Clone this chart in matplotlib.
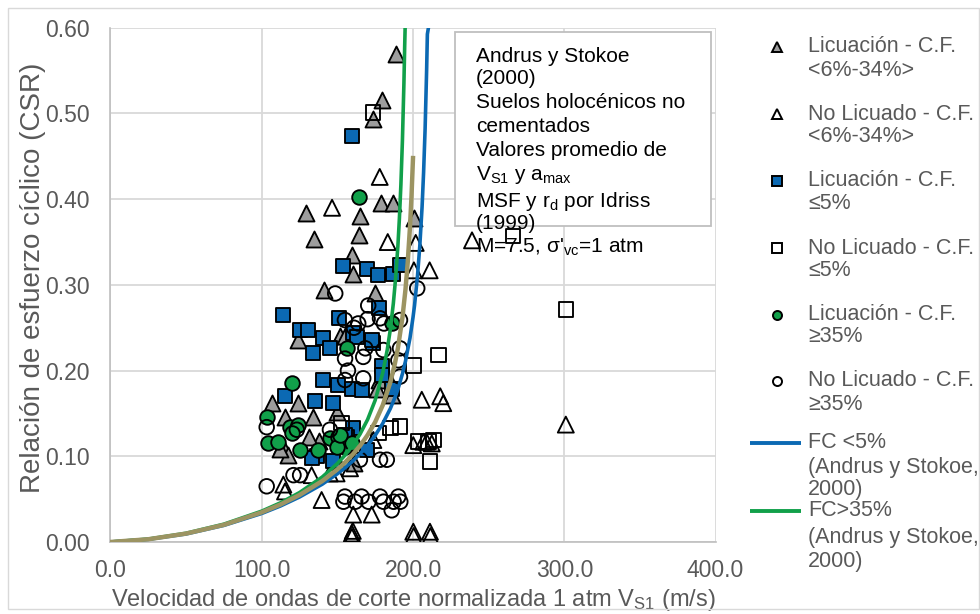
import matplotlib
matplotlib.use('Agg')
import matplotlib.pyplot as plt
from matplotlib.lines import Line2D
from matplotlib.patches import Rectangle

plt.rcParams['font.family'] = ['Liberation Sans', 'DejaVu Sans']
plt.rcParams['mathtext.fontset'] = 'custom'
plt.rcParams['mathtext.rm'] = 'Liberation Sans'
plt.rcParams['mathtext.it'] = 'Liberation Sans:italic'
plt.rcParams['mathtext.bf'] = 'Liberation Sans:bold'

# ---- data: normalized shear-wave velocity Vs1 (m/s) vs cyclic stress ratio ----
liq_fc6_34_v = [189, 179.5, 173.6, 179, 186.6, 165, 129, 200.6, 134.6, 164, 159.5, 160.6,
                141, 175, 124.2, 152, 155.1, 177.3, 185.9, 106.6, 124.2, 149.5, 115.4,
                134.1, 113.2, 117.6, 112, 138, 161, 150, 176, 131]
liq_fc6_34_csr = [0.570, 0.516, 0.494, 0.395, 0.395, 0.380, 0.384, 0.378, 0.353, 0.358, 0.335, 0.313,
                  0.294, 0.291, 0.236, 0.240, 0.240, 0.189, 0.172, 0.162, 0.162, 0.152, 0.146,
                  0.146, 0.113, 0.102, 0.109, 0.118, 0.092, 0.095, 0.178, 0.123]

noliq_fc6_34_v = [178, 146.5, 183.3, 201.8, 200.6, 211, 173.8, 200.2, 206.8, 212.4, 205.8, 218,
                  220, 114.3, 115.4, 133, 145, 149.5, 158.4, 139.6, 160.5, 172.7, 159.6, 159.6,
                  160.2, 200.2, 211.2, 200.4, 211.5, 239, 301, 209]
noliq_fc6_34_csr = [0.426, 0.390, 0.350, 0.349, 0.317, 0.317, 0.119, 0.113, 0.117, 0.115, 0.166, 0.170,
                    0.162, 0.067, 0.059, 0.078, 0.080, 0.080, 0.086, 0.049, 0.032, 0.032, 0.010, 0.006,
                    0.013, 0.012, 0.012, 0.007, 0.007, 0.352, 0.137, 0.117]

liq_fc5_v = [160, 153.5, 169.4, 176.7, 186.6, 191.4, 177.3, 114.2, 151.3, 125.3, 130.8, 140.7,
             160.5, 134.1, 145.1, 173.8, 179.3, 179.3, 140.7, 150.7, 159.4, 166, 185.9, 115.4,
             135.2, 147.3, 160.5, 156.3, 136.3, 169.4, 133, 172.7, 162.9, 158.4, 155.1, 147]
liq_fc5_csr = [0.474, 0.322, 0.319, 0.311, 0.313, 0.323, 0.273, 0.265, 0.261, 0.247, 0.247, 0.238,
               0.244, 0.220, 0.226, 0.232, 0.205, 0.195, 0.189, 0.183, 0.179, 0.177, 0.179, 0.170,
               0.164, 0.162, 0.133, 0.123, 0.100, 0.107, 0.098, 0.236, 0.239, 0.113, 0.125, 0.094]

noliq_fc5_v = [173.6, 266, 301, 200.2, 216.7, 152.9, 177.1, 185, 191.4, 203.5, 210.1, 211.1, 213.5]
noliq_fc5_csr = [0.501, 0.357, 0.271, 0.206, 0.218, 0.139, 0.127, 0.133, 0.135, 0.117, 0.117, 0.094, 0.119]

liq_fc35_v = [164.5, 185.9, 156.2, 119.8, 103.3, 118.7, 124.2, 119.8, 145.1, 150.7, 155.1, 159.5,
              149.6, 104.3, 111, 125.3, 137.4, 152]
liq_fc35_csr = [0.403, 0.255, 0.226, 0.185, 0.146, 0.134, 0.137, 0.127, 0.121, 0.123, 0.111, 0.115,
                0.111, 0.115, 0.117, 0.107, 0.107, 0.125]

noliq_fc35_v = [148.6, 202.8, 170.4, 155, 163.8, 178.2, 180.8, 191.4, 155.1, 167.1, 180.4, 191.4,
                190.3, 191.4, 155.1, 167.1, 103.3, 123.2, 145.1, 164.9, 178.2, 182.7, 103.3, 121,
                125.4, 155, 166, 178.2, 190.3, 154, 161.8, 170.6, 180.5, 187.2, 191.6, 185.9,
                168.5, 161, 157, 170]
noliq_fc35_csr = [0.290, 0.296, 0.276, 0.259, 0.255, 0.261, 0.255, 0.259, 0.214, 0.216, 0.224, 0.226,
                  0.212, 0.193, 0.189, 0.191, 0.134, 0.131, 0.131, 0.096, 0.096, 0.096, 0.065, 0.078,
                  0.078, 0.053, 0.053, 0.053, 0.053, 0.047, 0.047, 0.047, 0.047, 0.047, 0.047, 0.037,
                  0.226, 0.250, 0.200, 0.260]

# boundary curves (Andrus y Stokoe, 2000)
crr_fc5_v = [0, 25, 50, 75, 100, 112.5, 125, 140, 150, 155, 160, 165, 170, 175, 180, 185, 188,
             190, 193, 195, 198, 200, 201, 203, 204.5, 206, 207, 208, 209, 209.5, 210.2]
crr_fc5_csr = [0, 0.0031, 0.0094, 0.0194, 0.0333, 0.0421, 0.0525, 0.0674, 0.0796, 0.0865, 0.0942,
               0.1029, 0.1128, 0.1244, 0.1383, 0.1556, 0.1684, 0.178, 0.1962, 0.2107, 0.2379,
               0.262, 0.2759, 0.311, 0.3456, 0.391, 0.4312, 0.482, 0.55, 0.5926, 0.60]
crr_fc35_v = [0, 25, 50, 75, 100, 112.5, 125, 140, 150, 155, 160, 165, 170, 175, 180, 183, 185,
              187, 188.5, 190, 191, 192, 193, 194, 194.5, 194.8]
crr_fc35_csr = [0, 0.0034, 0.0102, 0.0208, 0.036, 0.0458, 0.0577, 0.0758, 0.0915, 0.1011, 0.1123,
                0.1259, 0.1429, 0.1654, 0.1973, 0.2244, 0.248, 0.2783, 0.3076, 0.345, 0.3774,
                0.417, 0.468, 0.5355, 0.5783, 0.60]
crr_fc20_v = [0, 25, 50, 75, 100, 112.5, 125, 140, 150, 155, 160, 165, 170, 175, 180, 185, 188,
              190, 193, 195, 196.5, 198, 199, 200]
crr_fc20_csr = [0, 0.0032, 0.0098, 0.0200, 0.0346, 0.0438, 0.0548, 0.0711, 0.0847, 0.0927, 0.1018,
                0.1123, 0.1248, 0.1400, 0.1596, 0.1862, 0.2079, 0.2259, 0.2616, 0.2942, 0.3260,
                0.3674, 0.4030, 0.448]

x_ticks = [0, 100, 200, 300, 400]
y_ticks = [0.0, 0.1, 0.2, 0.3, 0.4, 0.5, 0.6]

legend_labels = [
    ("Licuación - C.F.", "<6%-34%>"),
    ("No Licuado - C.F.", "<6%-34%>"),
    ("Licuación - C.F.", "≤5%"),
    ("No Licuado - C.F.", "≤5%"),
    ("Licuación - C.F.", "≥35%"),
    ("No Licuado - C.F.", "≥35%"),
]
curve_labels = [("FC <5%", "(Andrus y Stokoe,", "2000)"),
                ("FC>35%", "(Andrus y Stokoe,", "2000)")]

note_lines = [
    "Andrus y Stokoe",
    "(2000)",
    "Suelos holocénicos no",
    "cementados",
    "Valores promedio de",
    r"$\mathregular{V_{S1}}$ y $\mathregular{a_{max}}$",
    r"MSF y r$\mathregular{_d}$ por Idriss",
    "(1999)",
    r"M=7.5, σ'$\mathregular{_{vc}}$=1 atm",
]

# ---- styling ----
GRAY = '#9d9d9d'
BLUE = '#0b69b3'
GREEN = '#11a04a'
TAN = '#9c9462'
TXT = '#595959'
GRID = '#d9d9d9'

W, H = 980, 614
fig = plt.figure(figsize=(W / 100, H / 100), dpi=100)


def fx(px):
    return px / W


def fy(py):
    return 1 - py / H


ax = fig.add_axes([fx(110.4), fy(542), (715.6 - 110.4) / W, (542 - 27.8) / H])
ax.set_xlim(0, 400)
ax.set_ylim(0, 0.6)
ax.set_xticks(x_ticks)
ax.set_yticks(y_ticks)
ax.set_xticklabels([f"{v:.1f}" for v in x_ticks])
ax.set_yticklabels([f"{v:.2f}" for v in y_ticks])
ax.grid(True, color=GRID, linewidth=1.3, zorder=0)
ax.set_axisbelow(True)
for s in ['top', 'right']:
    ax.spines[s].set_visible(False)
ax.spines['left'].set_color('#bfbfbf')
ax.spines['bottom'].set_color('#bfbfbf')
ax.spines['left'].set_linewidth(1.2)
ax.spines['bottom'].set_linewidth(1.2)
ax.tick_params(axis='both', length=0, colors=TXT)
ax.tick_params(axis='y', labelsize=16.5, pad=15)
ax.tick_params(axis='x', labelsize=16.5, pad=12)

ax.set_ylabel("Relación de esfuerzo cíclico (CSR)", fontsize=20, color=TXT)
ax.yaxis.set_label_coords(-0.106, 0.514)
ax.set_xlabel(r"Velocidad de ondas de corte normalizada 1 atm $\mathregular{V_{S1}}$ (m/s)",
              fontsize=17, color=TXT, labelpad=4)

ms_tri, ms_sq, ms_ci, mew = 11.5, 10.5, 10.5, 1.35
ax.scatter(liq_fc6_34_v, liq_fc6_34_csr, marker='^', s=ms_tri**2, facecolor=GRAY,
           edgecolor='black', linewidth=mew, zorder=3)
ax.scatter(noliq_fc6_34_v, noliq_fc6_34_csr, marker='^', s=ms_tri**2, facecolor='none',
           edgecolor='black', linewidth=mew, zorder=3)
ax.scatter(liq_fc5_v, liq_fc5_csr, marker='s', s=ms_sq**2, facecolor=BLUE,
           edgecolor='black', linewidth=mew, zorder=3)
ax.scatter(noliq_fc5_v, noliq_fc5_csr, marker='s', s=ms_sq**2, facecolor='none',
           edgecolor='black', linewidth=mew, zorder=3)
ax.scatter(liq_fc35_v, liq_fc35_csr, marker='o', s=ms_ci**2, facecolor=GREEN,
           edgecolor='black', linewidth=mew, zorder=3)
ax.scatter(noliq_fc35_v, noliq_fc35_csr, marker='o', s=ms_ci**2, facecolor='none',
           edgecolor='black', linewidth=mew, zorder=3)

ax.plot(crr_fc5_v, crr_fc5_csr, color=BLUE, linewidth=2.6, zorder=4, solid_joinstyle='round')
ax.plot(crr_fc35_v, crr_fc35_csr, color=GREEN, linewidth=2.6, zorder=4, solid_joinstyle='round')
ax.plot(crr_fc20_v, crr_fc20_csr, color=TAN, linewidth=3.2, zorder=4, solid_joinstyle='round')

# ---- note box ----
box = Rectangle((fx(455), fy(226)), (711 - 455) / W, (226 - 32) / H, transform=fig.transFigure,
                facecolor='white', edgecolor='#bfbfbf', linewidth=1.3, zorder=5)
fig.patches.append(box)
note_y = [57, 79, 103, 127, 150, 175, 202, 224, 247]
for line, py in zip(note_lines, note_y):
    fig.text(fx(476), fy(py), line, fontsize=15, color='black', ha='left', va='center', zorder=6)

# ---- legend ----
mk_x, tx_x = 777, 808
entry_y = [(47, 70), (114, 137), (181, 204), (248, 270), (315, 337), (381, 404)]
entry_style = [('^', GRAY), ('^', 'none'), ('s', BLUE), ('s', 'none'), ('o', GREEN), ('o', 'none')]
for (l1, l2), (y1, y2), (mk, fc) in zip(legend_labels, entry_y, entry_style):
    fig.add_artist(Line2D([fx(mk_x)], [fy(y1)], marker=mk, markersize=6.5 if mk != '^' else 7.5,
                          markerfacecolor=fc, markeredgecolor='black', markeredgewidth=1.4,
                          linestyle='none', transform=fig.transFigure))
    fig.text(fx(tx_x), fy(y1), l1, fontsize=15.5, color=TXT, ha='left', va='center')
    fig.text(fx(tx_x), fy(y2), l2, fontsize=15.5, color=TXT, ha='left', va='center')

curve_y = [(443, 467, 490), (511, 538, 562)]
for (t1, t2, t3), ys, col in zip(curve_labels, curve_y, [BLUE, GREEN]):
    fig.add_artist(Line2D([fx(750), fx(801)], [fy(ys[0]), fy(ys[0])], color=col, linewidth=2.8,
                          transform=fig.transFigure, solid_capstyle='butt'))
    for t, py in zip((t1, t2, t3), ys):
        fig.text(fx(tx_x), fy(py), t, fontsize=15.5, color=TXT, ha='left', va='center')

# chart border
fig.patches.append(Rectangle((fx(8), fy(609)), (979 - 8) / W, (609 - 8) / H,
                             transform=fig.transFigure, facecolor='none',
                             edgecolor=GRID, linewidth=1.0))

fig.savefig('out.png', dpi=100)
